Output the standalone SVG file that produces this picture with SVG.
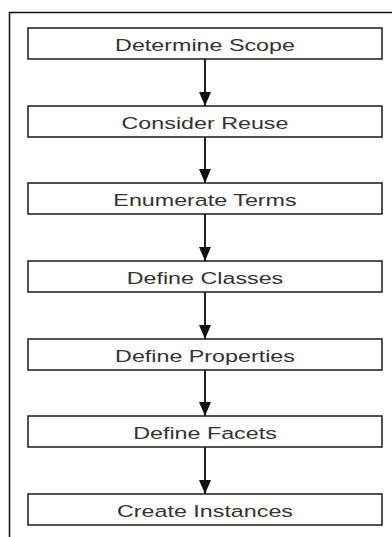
<svg xmlns="http://www.w3.org/2000/svg" width="392" height="537" viewBox="0 0 392 537">
<style>
.box{fill:#fff;stroke:#1a1a1a;stroke-width:1.5}
.lbl{font-family:"Liberation Sans",Arial,sans-serif;font-size:17px;fill:#333;text-anchor:middle}
.conn{stroke:#222;stroke-width:2;fill:none}
.frame{stroke:#111;stroke-width:1.5;fill:none}
</style>
<defs>
<marker id="ah" markerWidth="14" markerHeight="12" refX="14" refY="6" orient="auto" markerUnits="userSpaceOnUse">
<path d="M0,0 L14,6 L0,12 Z" fill="#111"/>
</marker>
</defs>
<rect width="392" height="537" fill="#fff"/>
<path class="frame" d="M9.5,537 V12.5 H392"/>
<g id="connectors">
<line class="conn" x1="205" y1="59" x2="205" y2="106" marker-end="url(#ah)"/>
<line class="conn" x1="205" y1="137" x2="205" y2="183" marker-end="url(#ah)"/>
<line class="conn" x1="205" y1="214" x2="205" y2="261" marker-end="url(#ah)"/>
<line class="conn" x1="205" y1="292" x2="205" y2="339" marker-end="url(#ah)"/>
<line class="conn" x1="205" y1="370" x2="205" y2="416" marker-end="url(#ah)"/>
<line class="conn" x1="205" y1="447" x2="205" y2="494" marker-end="url(#ah)"/>
</g>
<g id="n1"><rect class="box" x="28" y="28" width="354" height="31"/><text class="lbl" transform="translate(205 50.5) scale(1.37 1)">Determine Scope</text></g>
<g id="n2"><rect class="box" x="28" y="106" width="354" height="31"/><text class="lbl" transform="translate(205 128.5) scale(1.37 1)">Consider Reuse</text></g>
<g id="n3"><rect class="box" x="28" y="183" width="354" height="31"/><text class="lbl" transform="translate(205 205.5) scale(1.37 1)">Enumerate Terms</text></g>
<g id="n4"><rect class="box" x="28" y="261" width="354" height="31"/><text class="lbl" transform="translate(205 283.5) scale(1.37 1)">Define Classes</text></g>
<g id="n5"><rect class="box" x="28" y="339" width="354" height="31"/><text class="lbl" transform="translate(205 361.5) scale(1.37 1)">Define Properties</text></g>
<g id="n6"><rect class="box" x="28" y="416" width="354" height="31"/><text class="lbl" transform="translate(205 438.5) scale(1.37 1)">Define Facets</text></g>
<g id="n7"><rect class="box" x="28" y="494" width="354" height="31"/><text class="lbl" transform="translate(205 516.5) scale(1.37 1)">Create Instances</text></g>
</svg>
